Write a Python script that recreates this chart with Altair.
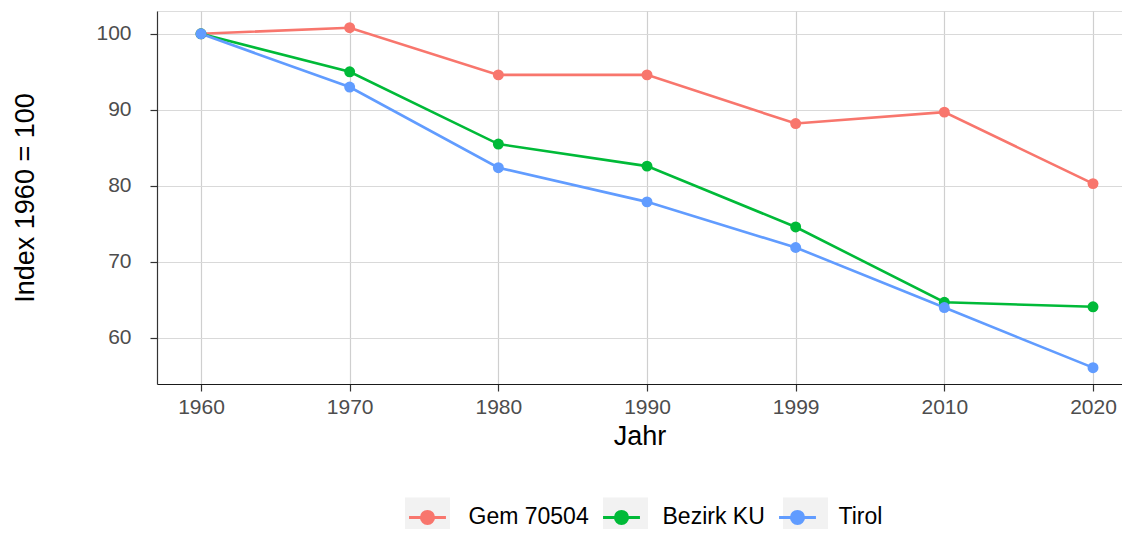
import altair as alt
import pandas as pd

years = ["1960", "1970", "1980", "1990", "1999", "2010", "2020"]
series_names = ["Gem 70504", "Bezirk KU", "Tirol"]
gem = [100, 100.8, 94.6, 94.6, 88.2, 89.7, 80.3]
bezirk = [100, 95.0, 85.5, 82.6, 74.6, 64.7, 64.1]
tirol = [100, 93.0, 82.4, 77.9, 71.9, 64.0, 56.1]
colors = ["#F8766D", "#00BA38", "#619CFF"]

rows = []
for name, vals in zip(series_names, [gem, bezirk, tirol]):
    for i, (yr, v) in enumerate(zip(years, vals)):
        rows.append({"series": name, "key": name, "idx": i, "Jahr": yr, "value": v})
df = pd.DataFrame(rows)

W, H = 965, 373
label_expr = "[" + ",".join(f"'{y}'" for y in years) + "][datum.value]"

x_enc = alt.X(
    "idx:Q",
    scale=alt.Scale(domain=[-0.296, 6.195], nice=False, zero=False),
    axis=alt.Axis(
        values=list(range(len(years))), labelExpr=label_expr, title="Jahr",
        grid=True, gridColor="#cfcfcf", gridWidth=1.2,
        domainColor="#1a1a1a", domainWidth=1.2, tickColor="#333333", tickSize=7, tickWidth=1.2,
        labelFontSize=21, labelColor="#4d4d4d", labelPadding=5, labelFont="Liberation Sans",
        titleFontSize=27, titleColor="#000000", titleFont="Liberation Sans",
        titleFontWeight="normal", titlePadding=6,
    ),
)
y_enc = alt.Y(
    "value:Q",
    scale=alt.Scale(domain=[53.95, 103.0], nice=False, zero=False),
    axis=alt.Axis(
        values=[60, 70, 80, 90, 100], title="Index 1960 = 100",
        grid=True, gridColor="#d9d9d9", gridWidth=1.2,
        domainColor="#333333", domainWidth=1.2, tickColor="#333333", tickSize=7, tickWidth=1.2,
        labelFontSize=21, labelColor="#4d4d4d", labelPadding=19, labelFont="Liberation Sans",
        titleFontSize=27, titleColor="#000000", titleFont="Liberation Sans",
        titleFontWeight="normal", titlePadding=56,
    ),
)

rect_path = "M-1,-0.89L1,-0.89L1,0.89L-1,0.89Z"
line_dot_path = "M-0.82,0L0.82,0M0.27,0A0.27,0.27,0,1,1,-0.27,0A0.27,0.27,0,1,1,0.27,0Z"
LX, LY = 246.5, 482

common_legend = dict(
    orient="none", legendX=LX, legendY=LY, direction="horizontal", title=None,
    symbolSize=2025, symbolStrokeWidth=3, labelFontSize=23, labelFont="Liberation Sans",
    columnPadding=7, padding=0,
)
main_legend = alt.Legend(symbolType=line_dot_path, labelColor="#000000", zindex=2,
                         symbolOpacity=1, labelOffset=17, **common_legend)

# the grey key boxes: a blank label whose offset equals the width of the real label,
# so that the boxes sit exactly under the real keys
NB = "\u00a0"
extra = {"Gem 70504": 120.2, "Bezirk KU": 102.25}
offset_expr = "".join(f"datum.label == '{k}' ? {17 + v} : " for k, v in extra.items()) + "17"

bg = alt.Chart(df).mark_square(opacity=1, size=0).encode(
    x=x_enc, y=y_enc,
    color=alt.Color(
        "key:N", sort=series_names,
        scale=alt.Scale(range=["#f2f2f2"] * 3),
        legend=alt.Legend(symbolType=rect_path, labelExpr=f"'{NB}'", labelOpacity=0, zindex=0,
                          labelOffset=alt.ExprRef(offset_expr),
                          symbolOpacity=1, symbolStrokeColor="transparent", **common_legend),
    ),
)

lines = alt.Chart(df).mark_line(strokeWidth=2.6).encode(
    x=x_enc, y=y_enc,
    stroke=alt.Stroke("series:N", scale=alt.Scale(domain=series_names, range=colors),
                      legend=main_legend),
    detail="series:N",
)

points = alt.Chart(df).mark_circle(size=120, opacity=1).encode(
    x=x_enc, y=y_enc,
    fill=alt.Fill("series:N", scale=alt.Scale(domain=series_names, range=colors),
                  legend=main_legend),
)

chart = alt.layer(bg, lines, points).properties(
    width=W, height=H,
    padding={"left": 149, "top": 3, "right": 0, "bottom": 145},
    autosize=alt.AutoSizeParams(type="none"),
).configure_view(stroke=None).configure(font="Liberation Sans")

chart.save("out.html", embed_options={"renderer": "svg", "actions": False})
